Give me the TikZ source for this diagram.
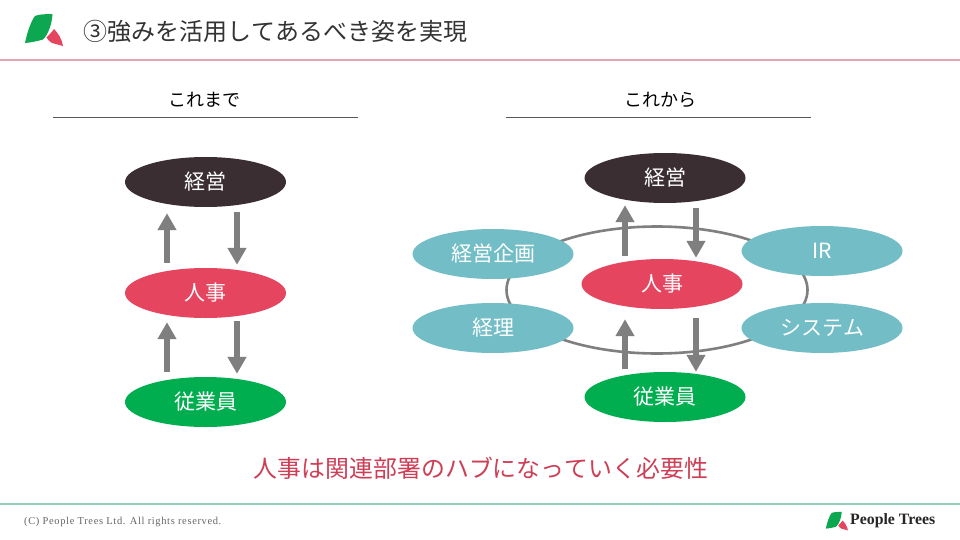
\documentclass[tikz,border=0pt]{standalone}
\usepackage{fontspec}
\setmainfont{Liberation Serif}
\newfontfamily\jp[Kerning=Off]{Noto Sans CJK JP}
\newfontfamily\copyfont[LetterSpace=6]{Liberation Serif}
\usetikzlibrary{arrows.meta,shapes.geometric}
\definecolor{dark}{HTML}{3B2E33}
\definecolor{hrred}{HTML}{E5455F}
\definecolor{empgreen}{HTML}{00AE50}
\definecolor{teal}{HTML}{72BDC6}
\definecolor{flowgray}{HTML}{7F7F7F}
\definecolor{pinkrule}{HTML}{E3A6B0}
\definecolor{tealrule}{HTML}{94CDBB}
\definecolor{leaf}{HTML}{0DA651}
\newcommand{\logomark}{%
  \fill[leaf] (52.5,14) .. controls (45,14) and (38,14.5) .. (35,16) .. controls (31,21) and (27,33) .. (25,43) .. controls (31,42.5) and (38,41) .. (43,39.5) .. controls (48,35) and (52,24) .. (52.5,14) -- cycle;
  \fill[hrred] (54,29) .. controls (52,32) and (49,35) .. (46.5,37.5) .. controls (48,40) and (50,42) .. (52,43) -- (63,46) .. controls (62,39) and (58,33) .. (54,29) -- cycle;
}
\tikzset{
  oval/.style={ellipse,minimum width=161pt,minimum height=50pt,inner sep=0pt,text=white,font=\jp\fontsize{21}{24}\selectfont},
  topoval/.style={oval,fill=dark},
  hroval/.style={oval,fill=hrred},
  empoval/.style={oval,fill=empgreen},
  deptoval/.style={oval,fill=teal},
  flow/.style={draw=flowgray,line width=6pt,-{Triangle[width=18pt,length=17pt]}},
  heading/.style={inner sep=0pt,font=\jp\fontsize{18}{20}\selectfont,text=black},
  headrule/.style={draw=black!65,line width=0.7pt},
}
\begin{document}
\begin{tikzpicture}[x=1pt,y=-1pt]
\useasboundingbox (0,0) rectangle (960,540);
\fill[white] (0,0) rectangle (960,540);
% header
\logomark
\node[anchor=west,inner sep=0pt,text=black!80,font=\jp\fontsize{24}{28}\selectfont] (title) at (83,31) {③強みを活用してあるべき姿を実現};
\coordinate (hl) at (0,60); \coordinate (hr) at (960,60);
\draw[pinkrule,line width=1.2pt] (hl) -- (hr);
% column headings
\node[heading] (headA) at (204,100) {これまで};
\node[heading] (headB) at (660,100) {これから};
\coordinate (a1) at (53,117.5); \coordinate (a2) at (358,117.5);
\coordinate (b1) at (506,117.5); \coordinate (b2) at (811,117.5);
\draw[headrule] (a1) -- (a2);
\draw[headrule] (b1) -- (b2);
% left
\node[topoval] (top1) at (205.5,182) {経営};
\node[hroval] (hr1) at (205.5,293) {人事};
\node[empoval] (emp1) at (205.5,402) {従業員};
\draw[flow] ([xshift=-38.5pt,yshift=5pt]hr1.north) -- ([xshift=-38.5pt,yshift=-6pt]top1.south);
\draw[flow] ([xshift=31.5pt,yshift=-5pt]top1.south) -- ([xshift=31.5pt,yshift=3pt]hr1.north);
\draw[flow] ([xshift=-38.5pt,yshift=5pt]emp1.north) -- ([xshift=-38.5pt,yshift=-4pt]hr1.south);
\draw[flow] ([xshift=31.5pt,yshift=-3pt]hr1.south) -- ([xshift=31.5pt,yshift=3pt]emp1.north);
% right
\node[draw=flowgray,line width=2.6pt,ellipse,minimum width=301pt,minimum height=127pt,inner sep=0pt] (ring) at (657,290) {};
\node[deptoval] (plan) at (493,254) {経営企画};
\node[deptoval] (acct) at (493,328) {経理};
\node[deptoval] (ir) at (822,251) {IR};
\node[deptoval] (sys) at (822,328) {システム};
\node[topoval] (top2) at (665,178) {経営};
\node[hroval] (hr2) at (662,284) {人事};
\node[empoval] (emp2) at (665,397) {従業員};
\draw[flow] ([xshift=-37pt,yshift=3pt]hr2.north) -- ([xshift=-40pt,yshift=-2pt]top2.south);
\draw[flow] ([xshift=31pt,yshift=-5pt]top2.south) -- ([xshift=34pt,yshift=1pt]hr2.north);
\draw[flow] ([xshift=-40pt,yshift=3pt]emp2.north) -- ([xshift=-37pt,yshift=-10pt]hr2.south);
\draw[flow] ([xshift=34pt,yshift=-9pt]hr2.south) -- ([xshift=31pt,yshift=0pt]emp2.north);
% message
\node[inner sep=0pt,text=hrred!90!black,font=\jp\fontsize{23.9}{28}\selectfont] (msg) at (481,468) {人事は関連部署のハブになっていく必要性};
% footer
\coordinate (fl) at (0,504); \coordinate (fr) at (960,504);
\draw[tealrule,line width=1.2pt] (fl) -- (fr);
\node[anchor=west,inner sep=0pt,text=black!60,font=\copyfont\fontsize{10.5}{12}\selectfont] (copy) at (24,522) {(C) People Trees Ltd. All rights reserved.};
\begin{scope}[shift={(811.3,503.7)},scale=0.58]
\logomark
\end{scope}
\node[anchor=west,inner sep=0pt,text=black!85,font=\bfseries\fontsize{15.8}{18}\selectfont] (brand) at (850,520.5) {People Trees};
\end{tikzpicture}
\end{document}
